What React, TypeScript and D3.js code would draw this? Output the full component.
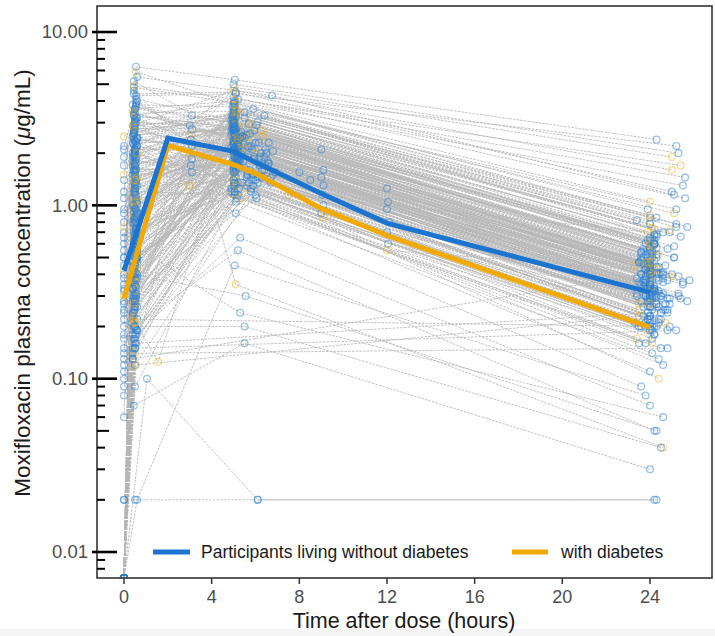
import React from 'react';
import * as d3 from 'd3';

const BLQ = 0.00708;
const B = BLQ;
const NA = NaN;

// pre-dose concentration (t = 0)
const preDose = [
  B,B,0.3,B,B,1.9,B,B,B,0.45,
  B,B,B,B,0.12,B,B,B,2.5,B,
  B,B,B,B,B,0.6,B,B,B,B,
  0.22,B,B,B,B,B,B,1.5,B,B,
  B,0.8,B,B,0.15,B,B,B,B,B,
  B,B,B,0.35,B,2.2,B,B,B,B,
  B,0.08,B,B,B,B,0.25,B,B,B,
  B,B,B,B,B,0.5,B,B,0.4,B,
  0.02,B,B,B,B,B,1.7,B,B,B,
  B,B,B,B,B,0.18,B,B,B,0.9,
  0.02,B,B,B,B,B,B,0.28,B,B,
  B,B,B,0.13,B,B,B,B,0.55,B,
  B,B,B,B,B,1.2,B,B,B,B,
  B,0.1,B,B,B,B,B,B,0.32,B,
  B,B,B,B,B,0.7,B,B,B,0.2,
  B,B,0.38,B,B,B,B,0.09,B,B,
  B,B,B,0.42,B,B,B,B,1.1,B,
  B,0.17,B,B,B,B,B,B,B,0.65,
  B,B,B,B,2.1,B,B,B,B,B,
  B,B,0.27,B,B,B,B,0.11,B,B,
  B,B,B,B,B,B,0.95,B,B,B,
  B,B,B,B,0.5,B,B,B,B,B,
  0.14,B,B,B,B,B,B,B,1.4,B,
  B,B,B,B,B,0.33,B,B,B,B,
  B,B,0.06,B,B,B,B,B,B,0.24,
  B,B,B,B,B,B,B,0.75,B,B,
];
// early sample (~0.5 h)
const earlyTime = [
  0.5,0.4,0.55,0.45,0.6,0.5,0.35,0.5,0.45,0.55,
  0.4,0.5,0.6,0.45,0.5,0.55,0.4,0.5,0.45,0.6,
  0.5,0.55,0.45,0.4,0.5,0.6,0.5,0.45,0.55,0.4,
  0.55,0.5,0.4,0.6,0.45,0.5,0.55,0.4,0.5,0.45,
  0.45,0.6,0.5,0.55,0.4,0.5,0.45,0.55,0.6,0.5,
  0.5,0.45,0.55,0.4,0.6,0.5,0.45,0.5,0.55,0.4,
  0.6,0.5,0.45,0.55,0.4,0.5,0.6,0.45,0.5,0.55,
  0.4,0.55,0.5,0.45,0.6,0.5,0.4,0.55,0.45,0.5,
  0.5,0.45,0.6,0.5,0.55,0.4,0.5,0.45,0.6,0.55,
  0.55,0.4,0.5,0.6,0.45,0.5,0.55,0.4,0.5,0.45,
  0.45,0.5,0.55,0.4,0.6,0.5,0.45,0.55,0.5,0.4,
  0.5,0.6,0.45,0.55,0.4,0.5,0.6,0.45,0.5,0.55,
  0.6,0.45,0.5,0.4,0.55,0.5,0.45,0.6,0.5,0.4,
  0.4,0.5,0.55,0.45,0.6,0.5,1.05,0.45,0.5,0.55,
  0.55,0.45,0.5,0.6,0.4,0.5,0.55,0.45,0.6,0.5,
  0.5,0.55,0.4,0.45,0.5,0.6,0.45,0.5,0.55,0.4,
  0.45,0.55,0.5,0.4,0.6,0.5,0.45,0.55,0.5,0.6,
  0.5,0.4,0.55,0.45,0.5,0.6,0.5,0.45,0.55,0.4,
  0.55,0.5,0.45,0.6,0.5,0.4,0.55,0.5,0.45,0.5,
  0.4,0.6,0.5,0.55,0.45,0.5,0.6,0.4,0.5,0.55,
  0.5,0.45,0.6,0.5,0.4,0.55,0.5,0.45,0.6,0.5,
  0.6,0.5,0.4,0.45,0.55,0.5,0.45,0.6,0.5,0.4,
  0.45,0.55,0.5,0.6,0.5,0.45,0.4,0.55,0.5,0.6,
  0.5,0.4,0.55,0.5,0.45,0.6,0.5,0.4,0.55,0.45,
  0.55,0.5,0.45,0.4,0.6,0.5,0.55,0.45,0.5,0.4,
  0.4,0.5,0.6,0.55,0.45,0.5,0.4,0.6,0.5,0.55,
];
const earlyConc = [
  0.45,1.8,0.32,2.6,0.9,3.4,0.21,1.2,0.6,4.1,
  1.5,0.28,2.2,0.75,0.18,3.0,1.1,0.5,2.8,0.38,
  0.95,5.9,0.25,1.7,0.66,2.4,0.14,1.35,3.7,0.42,
  0.8,2.0,0.3,1.05,4.6,0.55,0.19,2.9,1.6,0.7,
  0.35,3.2,1.25,0.48,0.23,2.1,0.88,6.3,0.6,1.45,
  0.16,2.5,0.72,1.9,0.4,3.6,1.0,0.27,0.52,2.3,
  1.3,0.12,0.85,3.9,0.33,1.55,0.62,2.7,0.2,1.15,
  0.44,4.3,0.09,1.75,0.68,2.05,0.3,1.38,3.3,0.58,
  0.02,0.92,2.45,0.36,1.62,0.24,3.1,0.78,1.08,0.5,
  2.15,0.15,1.4,0.65,4.8,0.29,1.85,0.98,0.41,2.65,
  0.07,1.22,0.55,3.5,0.26,1.68,0.83,2.35,0.46,0.13,
  1.95,0.7,2.9,0.34,1.12,0.6,4.0,0.22,1.5,0.88,
  0.02,2.55,0.4,1.3,0.74,3.15,0.17,1.02,0.57,2.0,
  1.7,0.31,0.95,5.2,0.49,1.28,0.1,2.25,0.66,1.42,
  0.37,2.8,1.18,0.54,3.8,0.2,0.86,1.58,0.43,2.1,
  0.62,1.9,0.28,3.4,1.05,0.47,2.4,0.15,1.33,0.8,
  0.24,1.6,0.38,2.9,0.19,0.85,3.3,0.29,1.25,0.52,
  2.05,0.33,0.7,4.4,0.17,1.45,0.26,2.6,0.58,1.0,
  0.3,3.6,0.21,0.92,1.8,0.4,2.3,0.15,0.64,1.15,
  0.47,2.2,0.34,1.05,0.23,3.0,0.78,0.13,1.55,0.41,
  1.9,0.27,0.6,2.75,0.36,0.18,1.35,4.9,0.5,0.82,
  0.22,1.7,0.44,3.4,0.31,0.96,0.2,2.45,0.68,0.38,
  1.2,0.16,2.1,0.55,0.28,1.6,0.43,3.8,0.25,0.9,
  0.35,2.5,0.12,1.3,0.62,0.19,2.85,0.48,1.05,0.3,
  0.73,0.26,1.95,0.4,5.5,0.21,1.1,0.57,2.35,0.33,
  0.18,1.4,0.5,3.2,0.29,0.8,0.14,2.0,0.45,1.75,
];
// sample around 5 h
const peakTime = [
  5.0,5.1,4.95,5.6,5.05,5.2,6.2,5.0,5.15,4.9,
  5.1,5.8,5.0,5.05,6.5,5.0,5.25,4.95,5.1,5.4,
  5.0,5.05,6.0,5.15,4.9,5.2,5.1,5.7,5.0,5.05,
  5.3,5.0,5.1,6.8,5.05,4.95,5.5,5.0,5.15,6.1,
  5.05,5.2,5.0,4.95,5.9,5.1,5.0,5.05,6.4,5.15,
  5.0,5.1,5.35,5.0,4.9,5.05,6.6,5.2,5.1,5.0,
  5.15,6.3,5.0,5.05,5.1,5.6,4.95,5.0,5.2,5.05,
  5.0,5.1,5.75,4.9,5.05,5.0,6.0,5.15,5.1,5.3,
  6.1,5.0,5.05,5.1,6.9,5.0,5.2,4.95,5.05,5.45,
  5.1,5.0,6.25,5.05,5.0,5.15,4.9,5.85,5.0,5.1,
  5.5,5.05,5.0,5.2,5.1,6.45,5.0,5.05,4.95,5.15,
  5.0,5.1,5.05,6.05,5.0,5.2,5.1,4.95,5.65,5.0,
  5.05,5.0,5.15,5.1,6.7,5.0,5.05,5.3,5.0,4.9,
  5.2,5.05,5.0,5.1,5.95,5.0,6.1,5.05,5.15,5.0,
  5.0,6.35,5.1,5.05,5.0,5.25,4.95,5.8,5.1,5.0,
  5.15,5.0,5.05,6.15,5.1,5.0,5.4,5.05,5.0,5.2,
  5.3,5.0,5.6,5.1,6.2,5.45,5.05,5.8,5.2,6.5,
  5.0,5.7,5.25,5.1,6.0,5.35,4.95,5.5,6.3,5.15,
  5.9,5.05,5.4,6.6,5.0,5.55,5.2,6.1,5.1,5.75,
  5.2,6.4,5.0,5.65,5.3,5.05,6.8,5.45,5.15,5.9,
  5.5,5.1,6.15,5.0,5.85,5.3,5.6,5.05,6.45,5.2,
  5.05,5.95,5.35,5.15,6.7,5.0,5.5,6.05,5.25,5.4,
  6.25,5.1,5.7,5.0,5.4,6.55,5.2,5.05,5.8,5.3,
  5.15,5.5,6.35,5.05,5.25,5.9,5.0,6.2,5.6,5.1,
  5.4,6.0,5.1,5.3,6.75,5.05,5.65,5.2,6.1,5.0,
  5.6,5.2,5.95,6.4,5.1,5.35,5.0,5.8,5.25,6.6,
];
const peakConc = [
  2.1,1.6,2.8,1.3,3.5,2.4,1.9,1.15,2.6,3.1,
  1.75,2.2,4.2,1.45,2.0,2.9,1.25,3.3,1.85,2.5,
  1.55,3.8,2.3,1.1,2.7,1.95,0.35,2.15,3.0,1.7,
  2.45,1.4,3.6,2.05,1.2,2.75,1.65,4.6,2.25,1.35,
  2.9,1.8,2.35,3.2,1.5,0.9,2.6,5.3,1.9,2.1,
  1.3,3.4,2.0,1.6,2.55,4.0,1.75,2.3,1.05,2.85,
  2.2,1.45,3.05,1.95,2.65,1.25,3.7,2.1,0.55,1.85,
  2.4,4.4,1.6,2.15,1.35,3.15,2.0,1.7,2.8,0.24,
  0.02,2.5,1.9,3.35,1.55,2.25,1.15,2.95,4.8,1.8,
  2.05,1.4,2.7,1.65,3.9,2.35,1.2,2.6,1.95,3.25,
  0.16,2.3,1.75,2.85,1.45,2.1,3.5,1.3,2.45,1.85,
  3.0,1.6,2.55,1.1,2.2,4.1,1.7,2.9,1.5,2.35,
  0.45,2.75,1.95,3.4,1.35,2.05,2.6,1.8,3.65,1.25,
  2.15,1.55,3.1,2.4,1.9,1.4,0.02,2.65,2.0,5.0,
  1.65,2.5,3.3,1.2,2.25,1.85,2.8,1.45,3.95,2.1,
  1.75,2.95,1.35,2.3,3.55,1.6,2.05,1.15,2.7,1.9,
  1.9,2.6,1.45,3.2,1.7,2.3,3.9,1.25,2.05,1.55,
  2.85,1.35,2.2,4.5,1.15,2.5,1.8,3.45,1.6,2.0,
  1.4,3.0,2.15,1.75,2.7,0.3,2.4,NA,1.95,2.6,
  2.3,1.6,3.3,1.9,1.1,2.8,1.5,NA,2.0,3.6,
  2.45,1.3,1.85,3.1,2.1,0.65,2.55,4.1,1.7,2.2,
  NA,2.7,1.95,3.5,1.45,2.35,0.2,2.9,1.65,2.1,
  2.0,NA,2.95,2.25,1.35,1.8,2.5,3.7,1.2,2.4,
  1.85,3.2,NA,2.15,2.6,1.3,3.4,1.7,2.3,1.95,
  2.5,1.4,2.75,1.9,4.3,1.6,2.2,1.35,3.05,1.75,
  1.5,2.4,1.85,3.3,2.05,2.65,NA,2.95,1.8,2.3,
];
// sample around 24 h
const troughTime = [
  24.0,23.6,24.4,23.9,25.2,24.1,23.4,24.0,24.7,23.8,
  24.3,24.0,25.6,23.5,24.2,23.9,24.1,24.9,23.7,24.2,
  23.9,25.1,24.0,24.5,23.6,24.2,24.6,23.8,24.0,25.4,
  24.4,23.7,24.0,25.8,24.1,23.9,24.3,25.0,24.0,23.3,
  24.1,24.6,23.8,24.2,24.8,23.6,24.0,24.3,23.9,25.3,
  23.5,24.2,24.0,24.7,23.9,25.5,24.1,24.0,24.4,23.7,
  24.3,23.9,24.2,24.0,25.1,23.4,24.0,24.6,24.2,23.8,
  24.0,25.2,23.7,24.4,24.0,24.1,23.8,25.7,24.0,24.6,
  24.2,24.0,24.1,23.9,24.8,24.0,23.5,24.3,25.0,24.0,
  23.7,24.2,24.0,24.9,23.9,24.3,24.1,23.3,24.2,25.4,
  24.0,23.8,24.5,24.1,24.0,23.6,25.2,24.0,24.4,23.9,
  24.2,24.0,23.5,24.6,24.0,25.6,23.9,24.1,24.0,24.4,
  23.8,24.3,24.0,24.1,24.9,23.7,24.0,24.5,23.4,24.2,
  24.0,24.7,23.9,24.0,24.2,24.4,24.3,23.6,24.0,25.3,
  24.3,24.0,24.2,23.8,25.0,24.0,23.6,24.4,24.0,24.1,
  24.0,24.2,24.8,23.9,24.0,24.5,23.5,24.0,25.1,24.2,
  24.1,23.7,24.6,24.0,25.3,23.6,24.3,24.0,24.8,23.5,
  24.0,24.4,23.8,25.0,24.2,24.0,23.4,24.6,24.0,25.5,
  23.9,24.2,24.0,24.8,23.7,24.3,24.0,25.2,24.1,23.8,
  24.5,24.0,24.3,23.8,24.1,25.1,24.0,23.6,24.4,25.7,
  24.0,24.7,23.8,24.2,24.6,24.0,23.5,25.4,24.1,24.0,
  24.3,23.6,24.0,24.9,24.1,23.8,24.5,24.0,24.3,25.0,
  23.8,24.2,24.8,24.0,23.6,24.4,24.0,25.2,24.1,23.9,
  24.2,24.0,23.5,24.6,24.3,23.8,24.0,24.9,24.2,25.5,
  24.0,24.4,24.1,23.7,25.1,24.0,24.6,23.8,24.2,24.0,
  24.5,23.8,24.0,24.3,23.4,24.1,24.8,24.0,25.3,24.3,
];
const troughConc = [
  0.35,0.28,0.52,0.22,0.75,0.4,0.3,0.18,0.45,0.6,
  0.3,0.38,1.1,0.25,0.33,0.55,0.2,0.7,0.32,0.48,
  0.26,0.9,0.42,0.15,0.5,0.34,0.04,0.36,0.62,0.29,
  0.44,0.23,0.8,0.37,0.19,0.5,0.27,1.6,0.4,0.21,
  0.58,0.31,0.43,0.68,0.24,0.09,0.47,2.4,0.33,0.39,
  0.2,0.72,0.35,0.27,0.46,1.3,0.3,0.41,0.13,0.56,
  0.38,0.22,0.6,0.32,0.5,0.17,0.85,0.36,0.05,0.3,
  0.42,2.2,0.26,0.37,0.21,0.64,0.34,0.28,0.53,0.06,
  0.02,0.46,0.31,0.7,0.25,0.4,0.16,0.57,1.9,0.29,
  0.36,0.2,0.49,0.27,0.95,0.41,0.14,0.45,0.33,0.66,
  0.03,0.39,0.3,0.55,0.23,0.35,0.78,0.19,0.43,0.28,
  0.6,0.26,0.47,0.12,0.38,1.45,0.29,0.51,0.22,0.4,
  0.08,0.52,0.33,0.74,0.2,0.37,0.44,0.3,0.82,0.18,
  0.39,0.25,0.63,0.42,0.32,0.1,0.02,0.48,0.35,2.0,
  0.27,0.45,0.67,0.16,0.4,0.31,0.54,0.21,1.05,0.37,
  0.29,0.59,0.19,0.41,0.88,0.24,0.36,0.11,0.5,0.32,
  0.33,0.46,0.25,0.62,0.3,0.4,0.85,0.2,0.37,0.27,
  0.55,0.22,0.39,1.2,0.18,0.44,0.31,0.7,0.26,0.36,
  0.24,0.6,0.42,0.29,0.5,0.05,0.45,0.19,0.34,0.52,
  0.41,0.28,0.66,0.35,0.16,0.58,0.23,0.4,0.32,0.75,
  0.48,0.21,0.3,0.63,0.38,0.07,0.47,1.7,0.29,0.4,
  0.2,0.53,0.36,0.72,0.25,0.43,0.04,0.57,0.28,0.39,
  0.37,0.24,0.56,0.42,0.2,0.31,0.46,0.95,0.17,0.44,
  0.32,0.65,0.23,0.4,0.5,0.21,0.78,0.29,0.43,0.35,
  0.45,0.26,0.54,0.33,1.15,0.27,0.41,0.2,0.6,0.3,
  0.22,0.47,0.34,0.68,0.38,0.5,0.15,0.59,0.31,0.44,
];
const diabetesIds = [2,7,13,18,21,26,32,37,40,46,51,57,62,65,70,76,83,88,92,97,103,108,114,117,123,130,135,141,148,154,
  163,169,175,182,188,194,201,207,213,219,226,232,238,245,251,257];
// additional visits: participant id, time (h), concentration
const extraId = [3,11,26,33,44,57,66,77,90,103,112,117,0,0,5,5,24,24,36,36,48,48,56,56,70,70,9,83,95,101];
const extraTime = [3.1,3.0,3.1,3.05,3.1,3.0,3.1,3.05,3.1,3.0,3.1,1.55,9.1,12.0,9.0,12.05,9.1,12.0,9.05,12.1,9.1,12.0,9.0,12.05,9.1,12.0,9.0,7.5,8.0,8.5];
const extraConc = [3.3,2.9,2.6,2.4,2.2,2.0,1.85,1.7,1.55,1.3,2.75,0.125,1.6,1.25,1.45,1.05,1.3,0.95,1.15,0.8,1.0,0.7,0.9,0.6,0.85,0.55,2.1,1.15,1.55,1.4];

// group means
const meanTimes = [0, 2, 5, 6, 9, 12, 24];
const meanNoDiabetes = [0.42, 2.44, 2.05, 1.77, 1.17, 0.79, 0.315];
const meanDiabetes = [0.29, 2.22, 1.72, 1.53, 0.96, 0.67, 0.198];

const xTicks = [0, 4, 8, 12, 16, 20, 24];
const yMajor = [0.01, 0.1, 1, 10];
const yMajorLabels = ['0.01', '0.10', '1.00', '10.00'];

const W = 715, H = 636;
const L = 97, R = 712, T = 6, Bt = 578;
const BLUE = '#1b74d0';
const ORANGE = '#f2a900';
const FONT = '"Liberation Sans", Arial, Helvetica, sans-serif';

export default function App() {
  const x = d3.scaleLinear().domain([-1.232, 26.83]).range([L, R]);
  const y = d3.scaleLog().domain([0.00708, 14.13]).range([Bt, T]);

  const participants = preDose.map((p, i) => {
    const pts: [number, number][] = [
      [0, p],
      [earlyTime[i], earlyConc[i]],
      [peakTime[i], peakConc[i]],
      [troughTime[i], troughConc[i]],
    ];
    extraId.forEach((id, k) => {
      if (id === i) pts.push([extraTime[k], extraConc[k]]);
    });
    const clean = pts.filter(d => Number.isFinite(d[1])).sort((a, b) => a[0] - b[0]);
    return { pts: clean, dm: diabetesIds.includes(i) };
  });

  const line = d3.line<[number, number]>().x(d => x(d[0])).y(d => y(d[1]));
  const meanLine = d3.line<number>().x((_, i) => x(meanTimes[i])).y(d => y(d));

  const minor: { v: number; len: number }[] = [];
  [0.001, 0.01, 0.1, 1].forEach(dec => {
    for (let m = 2; m <= 9; m++) {
      const v = dec * m;
      if (v >= 0.00708 && v <= 14.13) minor.push({ v, len: m === 5 ? 12 : 8 });
    }
  });

  return (
    <svg width={W} height={H} style={{ position: 'absolute', left: 0, top: 0, background: '#fff' }} fontFamily={FONT}>
      <rect x={0} y={0} width={W} height={H} fill="#fff" />
      <rect x={0} y={629} width={W} height={7} fill="#f5f5f5" />
      <defs>
        <clipPath id="plot"><rect x={L} y={T} width={R - L} height={Bt - T} /></clipPath>
      </defs>
      <g clipPath="url(#plot)">
        {participants.map((p, i) => (
          <path key={'l' + i} d={line(p.pts) || ''} fill="none" stroke="#b6b6b6" strokeWidth={1.0} strokeDasharray="2.5,1.2" opacity={0.85} />
        ))}
        {participants.map((p, i) =>
          p.pts.map((d, j) => (
            <circle key={'c' + i + '_' + j} cx={x(d[0])} cy={y(d[1])} r={3.4} fill="none"
              stroke={p.dm ? ORANGE : '#2a7fd6'} strokeWidth={1.3} opacity={p.dm ? 0.42 : 0.48} />
          ))
        )}
        <path d={meanLine(meanDiabetes) || ''} fill="none" stroke={ORANGE} strokeWidth={5} />
        <path d={meanLine(meanNoDiabetes) || ''} fill="none" stroke={BLUE} strokeWidth={5} />
      </g>
      {/* frame */}
      <rect x={L} y={T} width={R - L} height={Bt - T} fill="none" stroke="#333" strokeWidth={1.6} />
      {/* y axis ticks */}
      {yMajor.map((v, i) => (
        <g key={'ym' + i}>
          <line x1={L - 5} x2={L + 20} y1={y(v)} y2={y(v)} stroke="#000" strokeWidth={2.6} />
          <text x={88} y={y(v)} dy="0.35em" textAnchor="end" fontSize={18.5} fill="#4d4d4d">{yMajorLabels[i]}</text>
        </g>
      ))}
      {minor.map((m, i) => (
        <line key={'yn' + i} x1={L} x2={L + m.len} y1={y(m.v)} y2={y(m.v)} stroke="#000" strokeWidth={2} />
      ))}
      {/* x axis ticks */}
      {xTicks.map(t => (
        <g key={'xt' + t}>
          <line x1={x(t)} x2={x(t)} y1={Bt} y2={Bt + 6} stroke="#333" strokeWidth={1.5} />
          <text x={x(t)} y={603} textAnchor="middle" fontSize={18} fill="#4d4d4d">{t}</text>
        </g>
      ))}
      <text x={404} y={628} textAnchor="middle" fontSize={21.5} fill="#1a1a1a">Time after dose (hours)</text>
      <text transform="translate(30,283) rotate(-90)" textAnchor="middle" fontSize={22.5} fill="#1a1a1a">
        Moxifloxacin plasma concentration (<tspan fontStyle="italic">μ</tspan>g/mL)
      </text>
      {/* legend */}
      <line x1={153} x2={190} y1={552} y2={552} stroke={BLUE} strokeWidth={5} />
      <text x={201} y={558} fontSize={17.5} fill="#1a1a1a">Participants living without diabetes</text>
      <line x1={512} x2={548} y1={552} y2={552} stroke={ORANGE} strokeWidth={5} />
      <text x={561} y={558} fontSize={17.5} fill="#1a1a1a">with diabetes</text>
    </svg>
  );
}
